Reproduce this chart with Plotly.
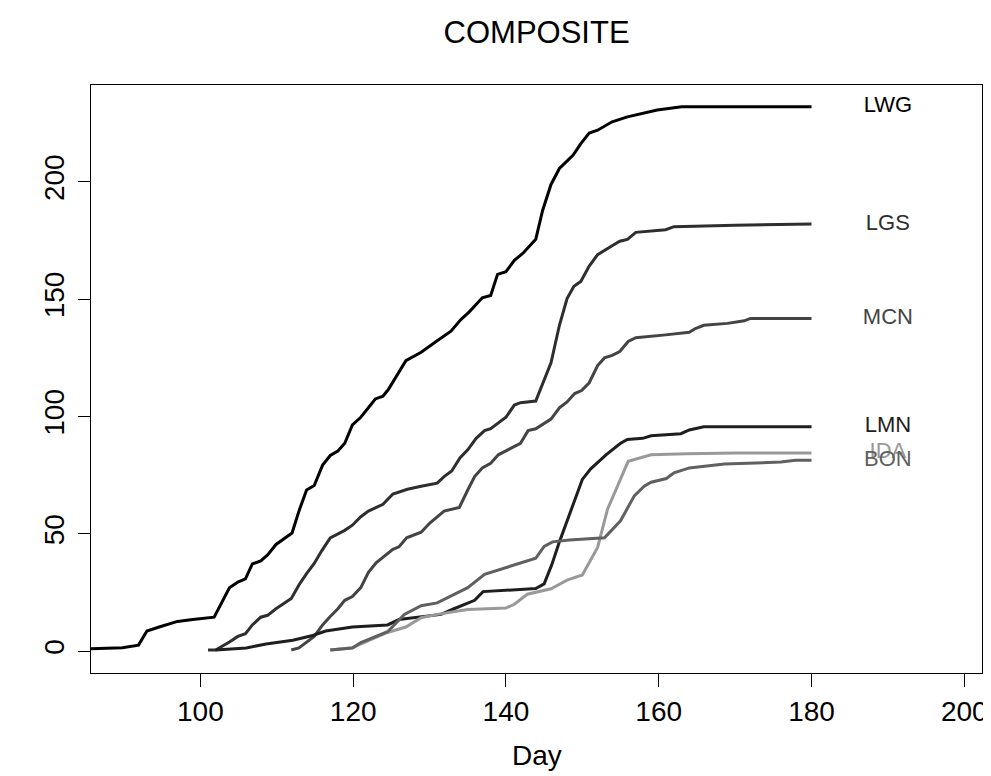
import plotly.graph_objects as go

# ---- data ----
lwg_day = [85, 89.8, 91.9, 93.0, 94.6, 97.0, 99.0, 101.8, 103.8, 104.9, 105.9, 106.8, 107.9, 108.8,
           109.9, 111.0, 112.0, 112.9, 113.9, 114.9, 116.0, 117.0, 118.0, 118.9, 119.9, 121.0,
           122.9, 123.9, 124.6, 126.9, 128.9, 131.0, 132.8, 134.1, 135.2, 136.9, 138.0, 138.9,
           140.0, 141.1, 142.2, 143.9, 144.8, 145.9, 147.0, 148.8, 149.8, 150.9, 152.0, 153.9,
           155.9, 159.8, 163.0, 180]
lwg_val = [1.0, 1.5, 2.6, 8.6, 10.3, 12.7, 13.5, 14.5, 27.0, 29.5, 30.8, 37.2, 38.5, 41.0,
           45.5, 48.0, 50.4, 59.7, 68.7, 70.6, 79.3, 83.4, 85.3, 88.6, 96.4, 99.7,
           107.5, 108.7, 111.5, 123.8, 127.4, 132.3, 136.4, 141.3, 144.6, 150.6, 151.6, 160.6,
           161.7, 166.6, 169.5, 175.5, 187.8, 198.9, 205.7, 211.4, 216.3, 220.8, 222.0, 225.6,
           227.7, 230.6, 232.0, 232.0]

lgs_day = [101.0, 102.0, 103.8, 104.9, 105.9, 106.8, 107.9, 108.8, 109.9, 111.9, 112.9, 113.9,
           114.9, 115.9, 117.0, 118.9, 119.9, 121.0, 122.0, 123.0, 123.9, 125.2, 127.1, 128.9,
           131.0, 131.9, 132.9, 134.0, 135.0, 136.1, 137.2, 138.0, 140.0, 141.1, 141.9, 143.9,
           145.0, 145.9, 147.0, 148.0, 148.9, 149.8, 150.9, 152.0, 153.9, 154.9, 155.9, 157.0,
           160.9, 162.0, 170.0, 180]
lgs_val = [0.5, 0.5, 3.9, 6.3, 7.5, 11.2, 14.5, 15.3, 18.1, 22.5, 28.2, 33.1,
           37.4, 42.9, 48.3, 51.5, 53.7, 57.3, 59.7, 61.3, 62.6, 67.0, 69.0, 70.3,
           71.6, 74.4, 76.8, 82.5, 85.8, 90.7, 94.0, 94.8, 99.7, 104.9, 105.9, 106.6,
           116.0, 122.9, 138.9, 150.3, 155.5, 157.6, 164.1, 169.0, 172.8, 174.7, 175.5, 178.5,
           179.6, 180.9, 181.5, 182.0]

mcn_day = [111.9, 112.9, 114.9, 116.0, 117.0, 118.0, 118.9, 119.9, 121.0, 122.0, 123.0, 123.9,
           125.2, 126.0, 127.0, 128.9, 130.0, 131.9, 133.9, 135.0, 135.9, 136.9, 138.0, 139.0,
           141.9, 142.9, 143.9, 145.9, 147.0, 148.0, 149.0, 149.9, 150.9, 152.0, 152.9, 153.9,
           154.9, 156.0, 157.0, 160.9, 164.0, 164.8, 165.9, 169.0, 171.2, 172.0, 180]
mcn_val = [0.5, 1.4, 6.3, 11.2, 14.8, 18.1, 21.7, 23.3, 27.1, 33.6, 37.7, 40.1,
           43.4, 44.5, 48.3, 50.7, 54.5, 59.7, 61.3, 68.7, 74.4, 78.1, 80.1, 83.7,
           88.6, 94.0, 94.8, 98.9, 103.7, 106.2, 109.8, 111.1, 114.4, 121.7, 125.0, 126.1,
           127.7, 132.0, 133.6, 134.8, 135.9, 137.5, 138.9, 139.7, 140.8, 141.8, 141.8]

lmn_day = [102.0, 106.0, 108.6, 112.1, 114.7, 116.4, 119.9, 124.5, 126.0, 131.5, 133.2, 135.9,
           137.0, 143.9, 145.0, 146.0, 147.0, 148.9, 150.0, 151.1, 153.1, 155.0, 155.9, 157.9,
           159.0, 162.9, 164.0, 165.9, 180]
lmn_val = [0.5, 1.4, 3.1, 4.7, 6.7, 8.6, 10.3, 11.2, 13.5, 15.7, 18.1, 21.7,
           25.4, 26.7, 28.7, 36.9, 46.6, 63.8, 73.2, 77.7, 83.7, 88.6, 90.2, 90.7,
           91.8, 92.7, 94.3, 95.6, 95.6]

ida_day = [117.0, 119.9, 122.0, 124.5, 126.9, 128.9, 131.0, 135.0, 140.0, 141.1, 142.8, 145.9,
           148.0, 150.0, 152.0, 153.3, 156.0, 159.0, 163.7, 170.0, 180]
ida_val = [0.5, 1.5, 4.5, 8.0, 10.3, 14.3, 15.7, 17.8, 18.4, 20.0, 24.3, 26.6,
           30.3, 32.5, 44.2, 60.5, 80.9, 83.7, 84.2, 84.5, 84.5]

bon_day = [117.0, 119.9, 121.0, 123.0, 124.5, 126.7, 128.9, 131.0, 133.0, 135.0, 137.2, 139.1,
           141.1, 143.9, 145.0, 146.1, 148.3, 152.9, 155.0, 156.8, 158.1, 159.0, 161.0, 162.0,
           164.0, 165.9, 168.6, 176.0, 177.9, 180]
bon_val = [0.5, 1.4, 3.7, 6.3, 8.3, 15.7, 19.4, 20.6, 23.8, 27.1, 32.8, 34.7,
           36.9, 39.6, 44.7, 46.6, 47.4, 48.3, 55.6, 66.2, 70.3, 72.0, 73.6, 76.0,
           78.1, 78.9, 79.8, 80.6, 81.4, 81.4]

site_names = ["LWG", "LGS", "MCN", "LMN", "IDA", "BON"]
site_days = [lwg_day, lgs_day, mcn_day, lmn_day, ida_day, bon_day]
site_vals = [lwg_val, lgs_val, mcn_val, lmn_val, ida_val, bon_val]
site_colors = ["#000000", "#2e2e2e", "#444444", "#1e1e1e", "#999999", "#606060"]
label_day = 190

x_ticks = [100, 120, 140, 160, 180, 200]
y_ticks = [0, 50, 100, 150, 200]

FONT = "Liberation Sans, Arial, Helvetica, sans-serif"

fig = go.Figure()
for name, d, v, c in zip(site_names, site_days, site_vals, site_colors):
    fig.add_trace(go.Scatter(x=d, y=v, mode="lines", name=name,
                             line=dict(color=c, width=3), showlegend=False))
    fig.add_trace(go.Scatter(x=[label_day], y=[v[-1]], mode="text", text=[name],
                             textposition="middle center",
                             textfont=dict(family=FONT, size=22, color=c),
                             showlegend=False, hoverinfo="skip"))

fig.update_layout(
    width=991, height=776,
    margin=dict(l=83, r=17, t=77, b=111),
    paper_bgcolor="white", plot_bgcolor="white",
    font=dict(family=FONT, color="black"),
    title=dict(text="COMPOSITE", x=0.5334, xanchor="center", y=1 - 24 / 776,
               yanchor="middle", yref="container",
               font=dict(family=FONT, size=31, color="black")),
)
fig.update_xaxes(range=[85.68, 202.32], tickvals=x_ticks, ticktext=[str(t) for t in x_ticks],
                 showgrid=False, zeroline=False, showline=True, linecolor="black", linewidth=1,
                 mirror=True, ticks="outside", ticklen=13, tickcolor="black",
                 ticklabeloverflow="allow",
                 tickfont=dict(family=FONT, size=28, color="black"))
fig.update_yaxes(range=[-9.28, 241.28], tickvals=y_ticks, ticktext=[str(t) for t in y_ticks],
                 showgrid=False, zeroline=False, showline=True, linecolor="black", linewidth=1,
                 mirror=True, ticks="outside", ticklen=12, tickcolor="black", tickangle=-90,
                 ticklabelstandoff=3, ticklabeloverflow="allow",
                 tickfont=dict(family=FONT, size=28, color="black"))
fig.add_annotation(text="Day", xref="paper", yref="paper", x=0.5, y=-82 / 588,
                   xanchor="center", yanchor="middle", showarrow=False,
                   font=dict(family=FONT, size=28, color="black"))

fig.write_html("out.html")
